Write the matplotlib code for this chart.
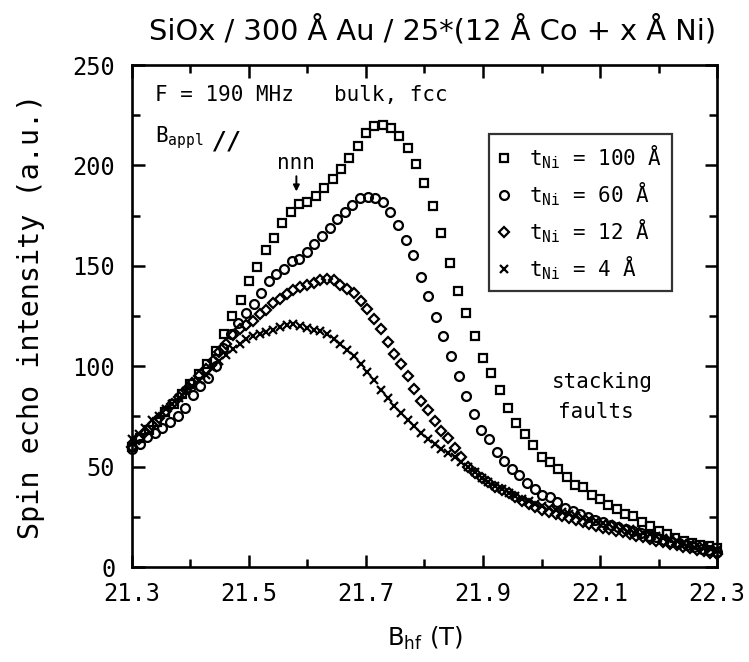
import numpy as np
import matplotlib
matplotlib.use("Agg")
import matplotlib.pyplot as plt
from matplotlib.ticker import MultipleLocator

plt.rcParams['font.family'] = ['DejaVu Sans Mono', 'DejaVu Sans']
plt.rcParams['mathtext.fontset'] = 'custom'
plt.rcParams['mathtext.rm'] = 'DejaVu Sans Mono'

# spin echo intensity, each series on its own uniform field grid
sq_100 = [60, 64, 68, 72, 77, 81, 86, 91, 96, 101,
          107.5, 116, 125, 133, 142.5, 149.5, 158, 164, 171.5, 177,
          181, 182, 184.7, 188.5, 193.3, 198, 203.5, 209.5, 216, 219.5,
          220, 218.5, 214.5, 208.5, 200.5, 191, 180, 166.5, 151.5, 137.5,
          126.5, 115, 104, 96.5, 88, 79, 71.5, 66, 61, 55,
          52.2, 49, 45, 41, 39.6, 35.8, 34, 30.8, 28.7, 26.4,
          25.2, 22.4, 20.3, 18, 16.2, 14.6, 12.9, 12, 11.2, 10.3, 9.5]

ci_60 = [59, 61.5, 64.5, 66.5, 69, 72.4, 75.2, 79, 85.5, 90.3,
         94.3, 100, 109.3, 116, 121.5, 126.3, 130.8, 136.5, 142.5, 146,
         148.6, 152.2, 153.6, 157, 160.9, 164.7, 168.9, 173.3, 176.6, 180.5,
         183.6, 184.2, 184, 181.6, 176.6, 170.5, 162.7, 155.2, 144.5, 134.9,
         124.6, 115, 105.2, 95.3, 85.4, 76, 68, 63.8, 57.3, 52.7,
         48.9, 46, 41.7, 39, 35.8, 34.8, 32.3, 29.5, 28, 26.5,
         25, 23.5, 22.3, 21, 20, 19, 17.8, 16.8, 15.6, 14.7,
         13.6, 12.7, 11.8, 11, 10, 9.2, 8.4, 7.6]

di_12 = [60, 63.5, 67, 70.5, 74, 77.5, 81, 84.5, 88, 91.5,
         95, 98.5, 102.5, 107, 111.3, 115.4, 118.5, 120.3, 122.7, 126,
         128, 131.5, 133.5, 136.2, 137.8, 139.2, 140.5, 141.5, 143, 143.3,
         142.8, 140.6, 138.3, 136.3, 132.7, 128.6, 123.4, 118.7, 112.2, 106.2,
         101, 95, 88.7, 82.5, 78, 72.5, 67.5, 64, 59.5, 54.8,
         50, 46.8, 44.5, 42.5, 40, 38.3, 36.7, 35, 33, 31.5,
         30, 28.5, 27.5, 26.5, 25.5, 24.5, 23.5, 22.5, 21.5, 20.5,
         19.5, 18.8, 18, 17.2, 16.4, 15.5, 14.7, 13.9, 13.1, 12.3,
         11.5, 10.8, 10, 9.3, 8.6, 7.9, 7.2, 6.5]

cr_4 = [63.5, 66, 69.3, 73, 75.4, 78.5, 81.3, 84.3, 87.5, 90.3,
        93.2, 95.7, 99.3, 102.8, 105.6, 108.6, 111.3, 113.6, 114.8, 116,
        117, 118.1, 119.4, 120.3, 120.9, 120, 119, 118.2, 117.3, 115.9,
        113.4, 111, 108.3, 105.2, 101.3, 97, 93, 88.3, 84, 80.1,
        76.7, 73.4, 70.2, 66.8, 63.9, 61.4, 58.8, 57, 54.9, 52.3,
        49.6, 47.2, 44.4, 42.2, 40.3, 38.7, 37, 35.4, 33.8, 32.7,
        31.5, 30.3, 29.2, 28.2, 27.3, 26.4, 25.5, 24.6, 23.7, 22.9,
        22, 21.2, 20.3, 19.5, 18.7, 17.8, 17, 16.2, 15.4, 14.6,
        13.8, 13, 12.2, 11.5, 10.8, 10.1, 9.4, 8.7]

series = [
    (sq_100, 's', 6.2, r't$_\mathregular{Ni}$ = 100 Å'),
    (ci_60, 'o', 6.4, r't$_\mathregular{Ni}$ = 60 Å'),
    (di_12, 'D', 4.6, r't$_\mathregular{Ni}$ = 12 Å'),
    (cr_4, 'x', 5.8, r't$_\mathregular{Ni}$ = 4 Å'),
]

fig = plt.figure(figsize=(7.49, 6.62), dpi=100)
ax = fig.add_axes([0.1762, 0.1435, 0.7811, 0.7583])

for vals, mk, ms, lab in series:
    B = np.linspace(21.3, 22.3, len(vals))
    ax.plot(B, vals, linestyle='none', marker=mk, markersize=ms,
            markerfacecolor='none', markeredgecolor='black',
            markeredgewidth=1.6, label=lab, clip_on=False)

ax.set_xlim(21.3, 22.3)
ax.set_ylim(0, 250)
ax.xaxis.set_major_locator(MultipleLocator(0.2))
ax.xaxis.set_minor_locator(MultipleLocator(0.1))
ax.yaxis.set_major_locator(MultipleLocator(50))
ax.yaxis.set_minor_locator(MultipleLocator(25))
ax.set_xticks([21.3, 21.5, 21.7, 21.9, 22.1, 22.3])
ax.set_xticklabels(['21.3', '21.5', '21.7', '21.9', '22.1', '22.3'])

ax.tick_params(which='both', direction='in', top=True, right=True,
               width=1.8, labelsize=17)
ax.tick_params(which='major', length=9)
ax.tick_params(which='minor', length=6)
ax.tick_params(axis='x', pad=11)
ax.tick_params(axis='y', pad=12)
for sp in ax.spines.values():
    sp.set_linewidth(1.9)

ax.set_ylabel('Spin echo intensity (a.u.)', fontsize=20.5, labelpad=20)
ax.set_xlabel(r'B$_\mathregular{hf}$ (T)', fontsize=17.5, labelpad=13,
              family='DejaVu Sans')

fig.text(0.577, 0.955, 'SiOx / 300 Å Au / 25*(12 Å Co + x Å Ni)',
         ha='center', va='center', fontsize=20.8, family='DejaVu Sans')

ax.text(21.34, 235, 'F = 190 MHz', fontsize=15, va='center')
ax.text(21.645, 235, 'bulk, fcc', fontsize=15, va='center')
ax.text(21.34, 214, r'B$_\mathregular{appl}$', fontsize=15, va='center')
ax.text(21.438, 212, '//', fontsize=17, va='center', fontweight='bold',
        style='italic')
ax.annotate('nnn', xy=(21.581, 187), xytext=(21.581, 196),
            ha='center', va='bottom', fontsize=15,
            arrowprops=dict(arrowstyle='-|>', color='black', lw=1.4,
                            mutation_scale=9, shrinkA=0, shrinkB=0))
ax.text(22.018, 92, 'stacking', fontsize=15, va='center')
ax.text(22.028, 77, 'faults', fontsize=15, va='center')

leg = ax.legend(loc='upper left', bbox_to_anchor=(0.610, 0.8625),
                fontsize=15, frameon=True, fancybox=False,
                handlelength=0.6, handletextpad=0.9, labelspacing=0.45,
                borderpad=0.45, borderaxespad=0)
leg.get_frame().set_edgecolor('black')
leg.get_frame().set_linewidth(1.6)

fig.savefig('out.png', dpi=100, facecolor='white')
